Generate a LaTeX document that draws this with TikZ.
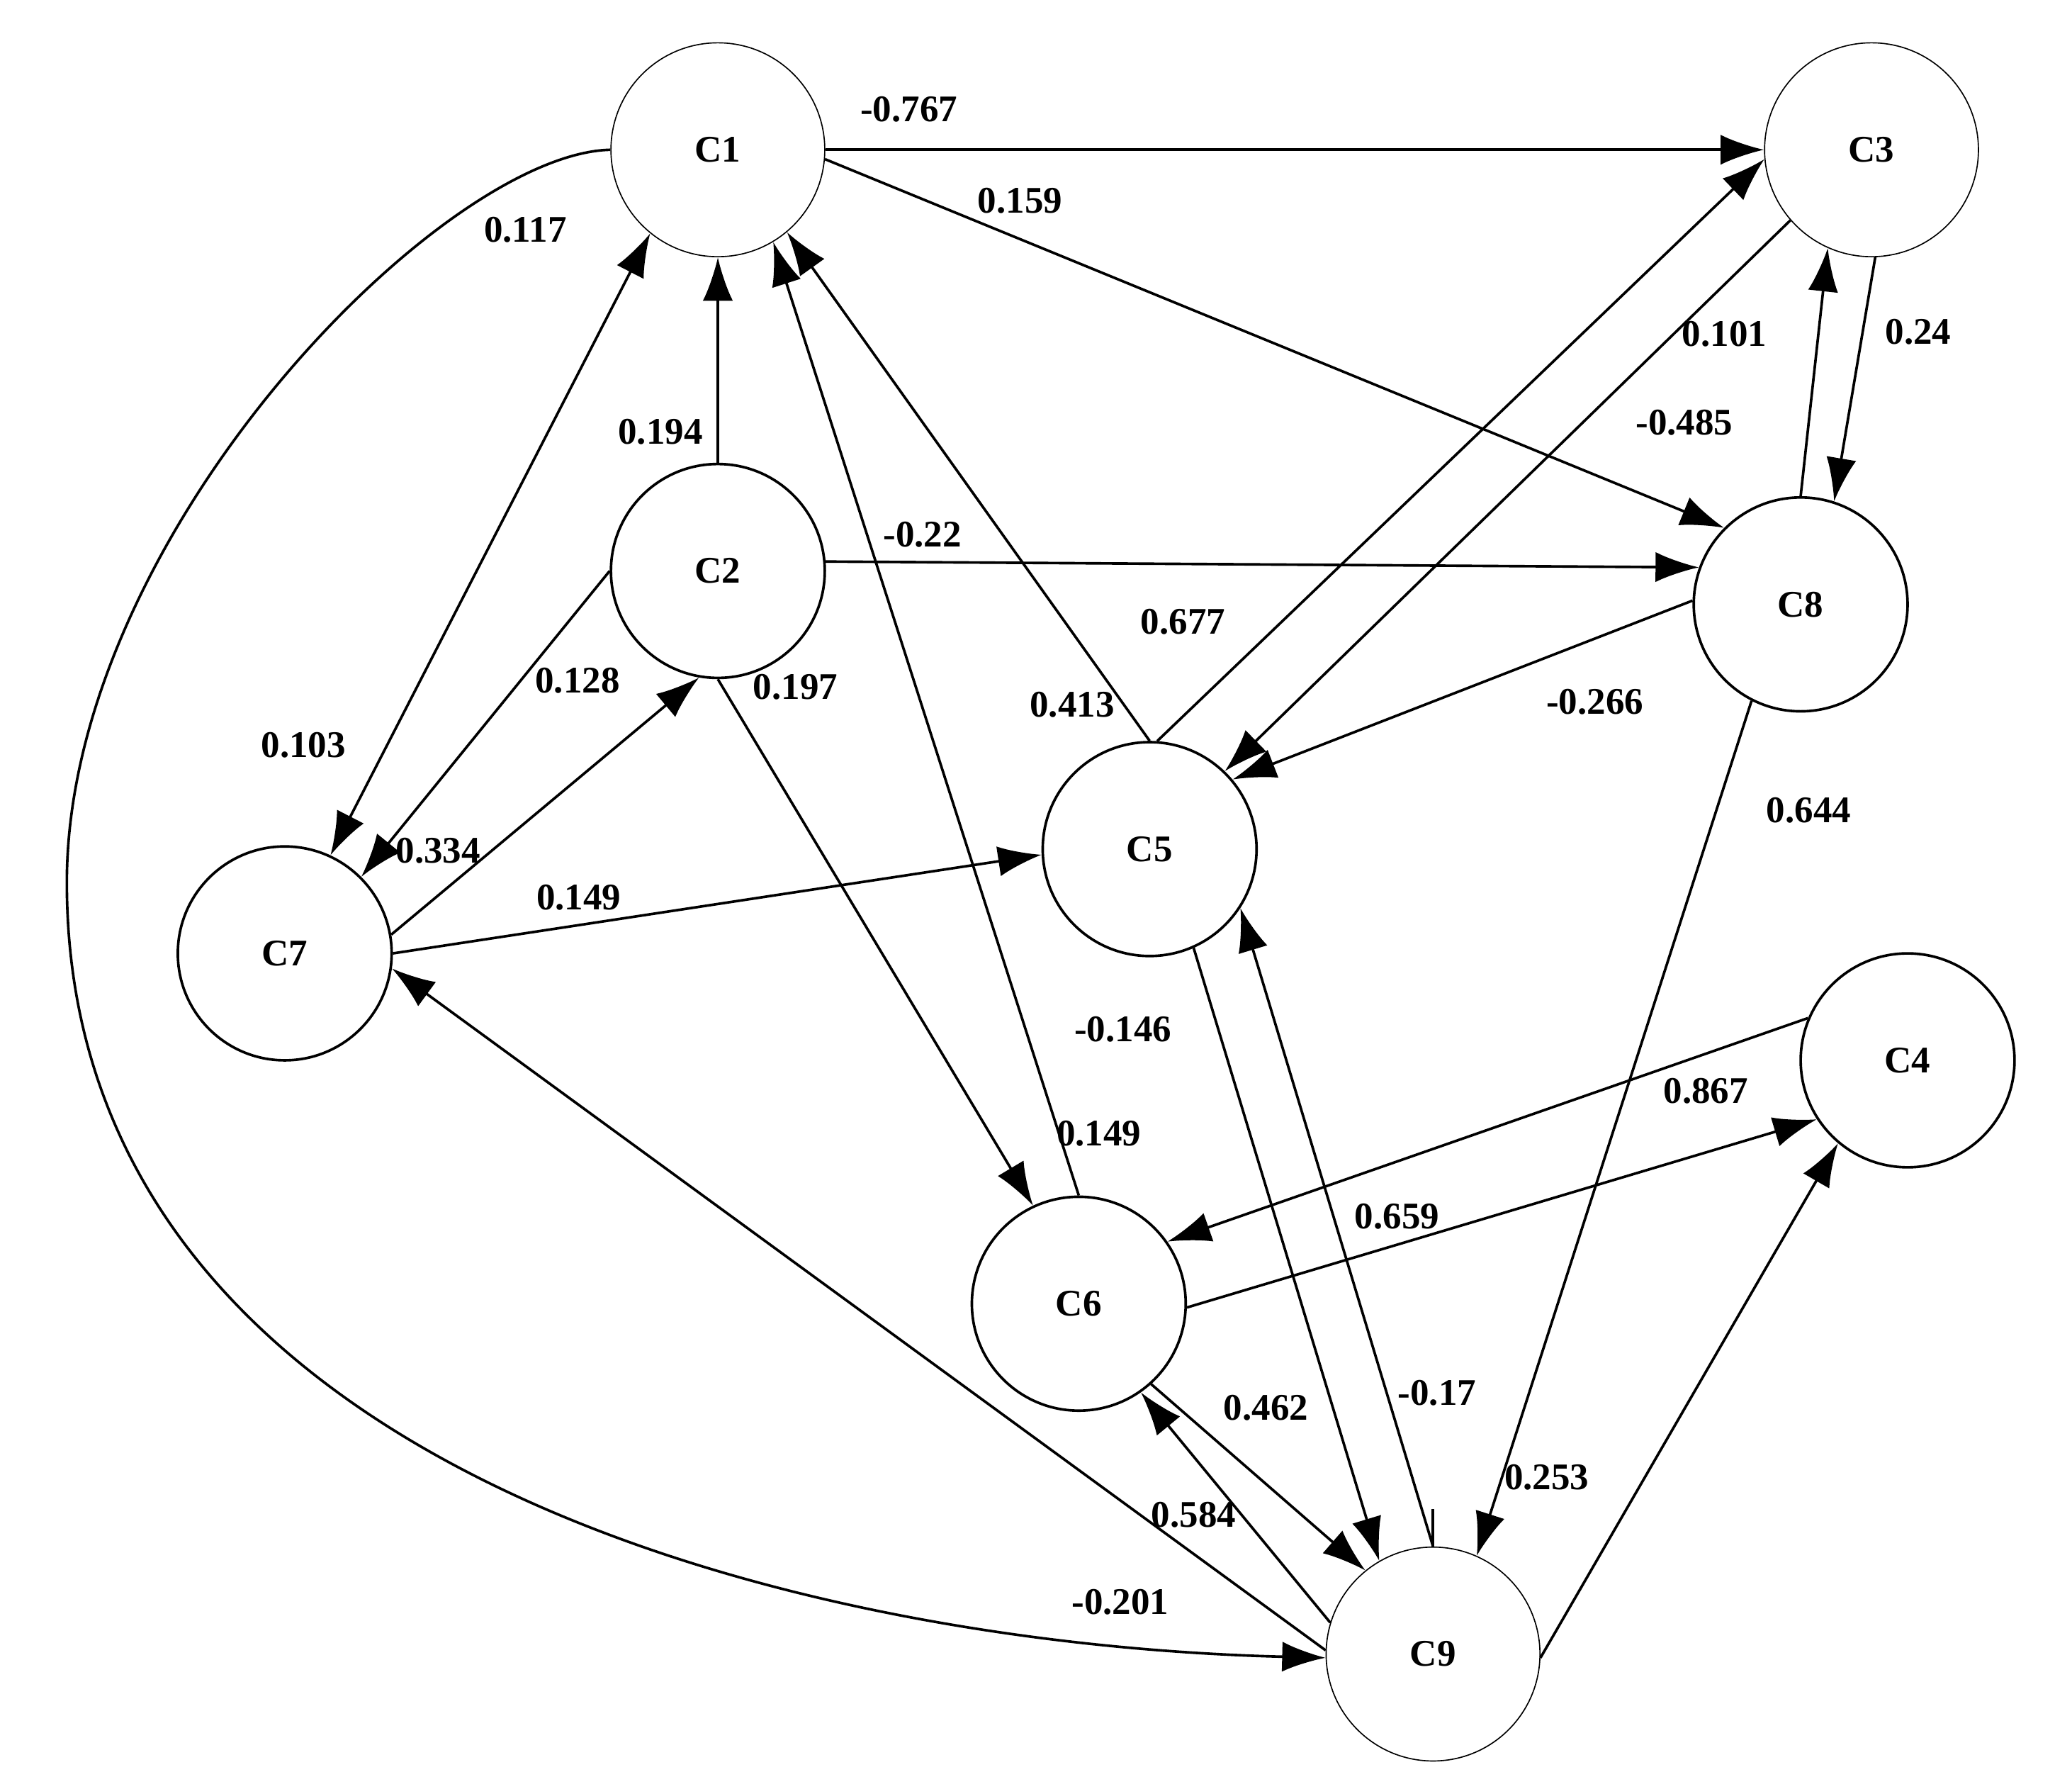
\documentclass[tikz,border=0pt]{standalone}
\usepackage{fontspec}
\setmainfont{Liberation Serif}
\usetikzlibrary{arrows.meta}
\begin{document}
\begin{tikzpicture}[x=0.02cm,y=-0.02cm,
  c/.style={circle,draw,minimum size=3.2cm,inner sep=0pt,line width=1.1pt,font=\fontsize{16}{18}\selectfont\bfseries},
  thin c/.style={c,line width=0.5pt},
  e/.style={line width=1.1pt,-{Latex[length=0.65cm,width=0.45cm]}},
  b/.style={line width=1.1pt,{Latex[length=0.65cm,width=0.45cm]}-{Latex[length=0.65cm,width=0.45cm]}},
  l/.style={font=\fontsize{16}{18}\selectfont\bfseries,inner sep=1pt}]
\useasboundingbox (0,0) rectangle (1550,1325);
\node[thin c] (C1) at (537,112) {C1};
\node[thin c] (C3) at (1400,112) {C3};
\node[c] (C2) at (537,427) {C2};
\node[c] (C8) at (1347,452) {C8};
\node[c] (C5) at (860,635) {C5};
\node[c] (C7) at (213,713) {C7};
\node[c] (C4) at (1427,793) {C4};
\node[c] (C6) at (807,975) {C6};
\node[thin c] (C9) at (1072,1237) {C9};
\draw[e] (C1.east) -- (C3.west);
\draw[e] (C1.-5) -- (C8.135);
\draw[e] (C1.180) .. controls (330,115) and (50,400) .. (50,660) .. controls (50,1100) and (600,1230) .. (C9.182);
\draw[b] (C7.65) -- (C1.231);
\draw[e] (C2.north) -- (C1.south);
\draw[e] (C2.180) -- (C7.45);
\draw[e] (C7.10) -- (C2.260);
\draw[e] (C2.5) -- (C8.160);
\draw[e] (C2.270) -- (C6.115);
\draw[e] (C6.90) -- (C1.301);
\draw[e] (C5.90) -- (C1.310);
\draw[e] (C5.86) -- (C3.185);
\draw[e] (C3.221) -- (C5.46);
\draw[e] (C8.90) -- (C3.246);
\draw[e] (C3.272) -- (C8.72);
\draw[e] (C8.178) -- (C5.40);
\draw[e] (C8.243) -- (C9.66);
\draw[e] (C7.0) -- (C5.183);
\draw[e] (C9.178) -- (C7.-8);
\draw[e] (C9.163) -- (C6.-55);
\draw[e] (C6.-48) -- (C9.129);
\draw[e] (C5.-66) -- (C9.120);
\draw[e] (C9.90) -- (C5.-33);
\draw[line width=1.1pt] (C9.north) -- ++(0,-28);
\draw[e] (C4.157) -- (C6.35);
\draw[e] (C6.-2) -- (C4.213);
\draw[e] (C9.-2) -- (C4.230);
\node[l] (l1) at (680,82) {-0.767};
\node[l] (l2) at (763,150) {0.159};
\node[l] (l3) at (393,172) {0.117};
\node[l] (l4) at (838,1198) {-0.201};
\node[l] (l5) at (227,557) {0.103};
\node[l] (l6) at (494,323) {0.194};
\node[l] (l7) at (432,509) {0.128};
\node[l] (l8) at (323,636) {-0.334};
\node[l] (l9) at (690,400) {-0.22};
\node[l] (l10) at (595,514) {0.197};
\node[l] (l11) at (822,848) {0.149};
\node[l] (l12) at (840,770) {-0.146};
\node[l] (l13) at (802,527) {0.413};
\node[l] (l14) at (885,465) {0.677};
\node[l] (l15) at (1290,250) {0.101};
\node[l] (l16) at (1260,316) {-0.485};
\node[l] (l17) at (1435,248) {0.24};
\node[l] (l18) at (1193,525) {-0.266};
\node[l] (l19) at (1353,606) {0.644};
\node[l] (l20) at (433,671) {0.149};
\node[l] (l21) at (893,1133) {0.584};
\node[l] (l22) at (947,1053) {0.462};
\node[l] (l23) at (1075,1042) {-0.17};
\node[l] (l24) at (1276,816) {0.867};
\node[l] (l25) at (1045,910) {0.659};
\node[l] (l26) at (1157,1105) {0.253};
\end{tikzpicture}
\end{document}
